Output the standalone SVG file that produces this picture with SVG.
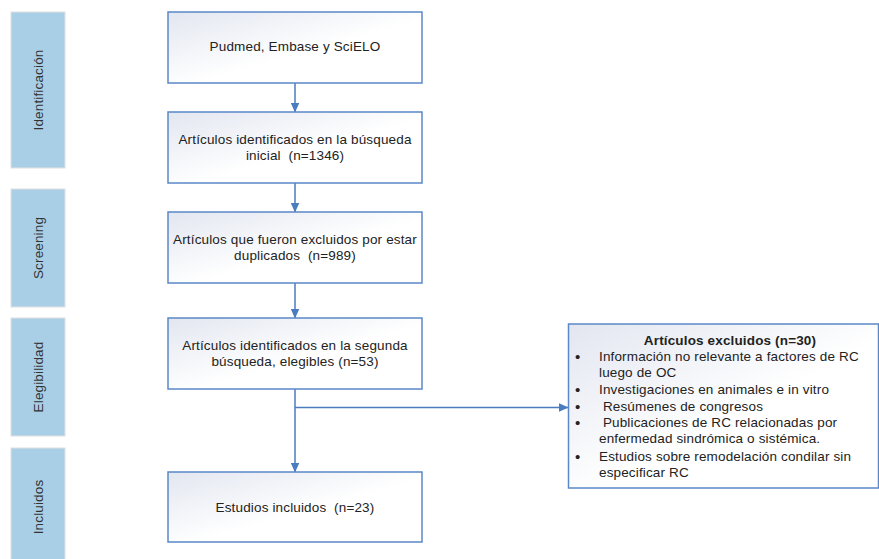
<svg xmlns="http://www.w3.org/2000/svg" width="879" height="559" viewBox="0 0 879 559">
<defs>
<linearGradient id="bg" x1="0" y1="0" x2="1" y2="1">
<stop offset="0" stop-color="#e2e6f0"/>
<stop offset="0.55" stop-color="#ffffff"/>
<stop offset="1" stop-color="#ffffff"/>
</linearGradient>
<marker id="ah" markerWidth="10" markerHeight="9" refX="9.5" refY="4.5" orient="auto" markerUnits="userSpaceOnUse">
<path d="M0,0 L10,4.5 L0,9 Z" fill="#4a7cc0"/>
</marker>
<style>
text{white-space:pre;font-family:"Liberation Sans",Arial,sans-serif;font-size:13.5px;letter-spacing:0.15px}
.phase{fill:#a9cfe7;stroke:#e0e0e0;stroke-width:1}
.pt{fill:#333333;text-anchor:middle}
.box{fill:url(#bg);stroke:#5b88c8;stroke-width:1.5}
.t{fill:#222222;text-anchor:middle}
.l text{fill:#222222}
.l .bu{font-size:15px}
.b{fill:#222222;font-weight:bold;text-anchor:middle}
.c{stroke:#4a7cc0;stroke-width:1.5;fill:none}
</style>
</defs>
<rect width="879" height="559" fill="#ffffff"/>

<g id="phase-identificacion">
<rect class="phase" x="11" y="12" width="54" height="156"/>
<text class="pt" transform="translate(43,90) rotate(-90)">Identificación</text>
</g>
<g id="phase-screening">
<rect class="phase" x="11" y="189" width="54" height="118"/>
<text class="pt" transform="translate(43,248) rotate(-90)">Screening</text>
</g>
<g id="phase-elegibilidad">
<rect class="phase" x="11" y="318" width="54" height="118"/>
<text class="pt" transform="translate(43,377) rotate(-90)">Elegibilidad</text>
</g>
<g id="phase-incluidos">
<rect class="phase" x="11" y="448" width="54" height="115"/>
<text class="pt" transform="translate(43,507) rotate(-90)">Incluidos</text>
</g>

<g id="connectors">
<line class="c" x1="295" y1="83" x2="295" y2="112" marker-end="url(#ah)"/>
<line class="c" x1="295" y1="183" x2="295" y2="212" marker-end="url(#ah)"/>
<line class="c" x1="295" y1="283" x2="295" y2="318" marker-end="url(#ah)"/>
<line class="c" x1="295" y1="389" x2="295" y2="472" marker-end="url(#ah)"/>
<line class="c" x1="295" y1="407.5" x2="568" y2="407.5" marker-end="url(#ah)"/>
</g>

<g id="box-fuentes">
<rect class="box" x="168" y="12" width="254" height="71"/>
<text class="t" x="295" y="51">Pudmed, Embase y SciELO</text>
</g>
<g id="box-identificados">
<rect class="box" x="168" y="112" width="254" height="71"/>
<text class="t" x="295" y="144">Artículos identificados en la búsqueda</text>
<text class="t" x="295" y="160">inicial  (n=1346)</text>
</g>
<g id="box-duplicados">
<rect class="box" x="168" y="212" width="254" height="71"/>
<text class="t" x="295" y="244">Artículos que fueron excluidos por estar</text>
<text class="t" x="295" y="260">duplicados  (n=989)</text>
</g>
<g id="box-elegibles">
<rect class="box" x="168" y="318" width="254" height="71"/>
<text class="t" x="295" y="350">Artículos identificados en la segunda</text>
<text class="t" x="295" y="366">búsqueda, elegibles (n=53)</text>
</g>
<g id="box-incluidos">
<rect class="box" x="168" y="472" width="254" height="70"/>
<text class="t" x="295" y="512">Estudios incluidos  (n=23)</text>
</g>
<g id="box-excluidos">
<rect class="box" x="568.5" y="324" width="310" height="164"/>
<text class="b" x="730" y="345">Artículos excluidos (n=30)</text>
<g class="l">
<text class="bu" x="575" y="361.5">•</text>
<text x="599" y="361">Información no relevante a factores de RC</text>
<text x="599" y="377">luego de OC</text>
<text class="bu" x="575" y="394.5">•</text>
<text x="599" y="394">Investigaciones en animales e in vitro</text>
<text class="bu" x="575" y="411.5">•</text>
<text x="599" y="411"> Resúmenes de congresos</text>
<text class="bu" x="575" y="427.5">•</text>
<text x="599" y="427"> Publicaciones de RC relacionadas por</text>
<text x="599" y="443">enfermedad sindrómica o sistémica.</text>
<text class="bu" x="575" y="461.5">•</text>
<text x="599" y="461">Estudios sobre remodelación condilar sin</text>
<text x="599" y="477">especificar RC</text>
</g>
</g>
</svg>
